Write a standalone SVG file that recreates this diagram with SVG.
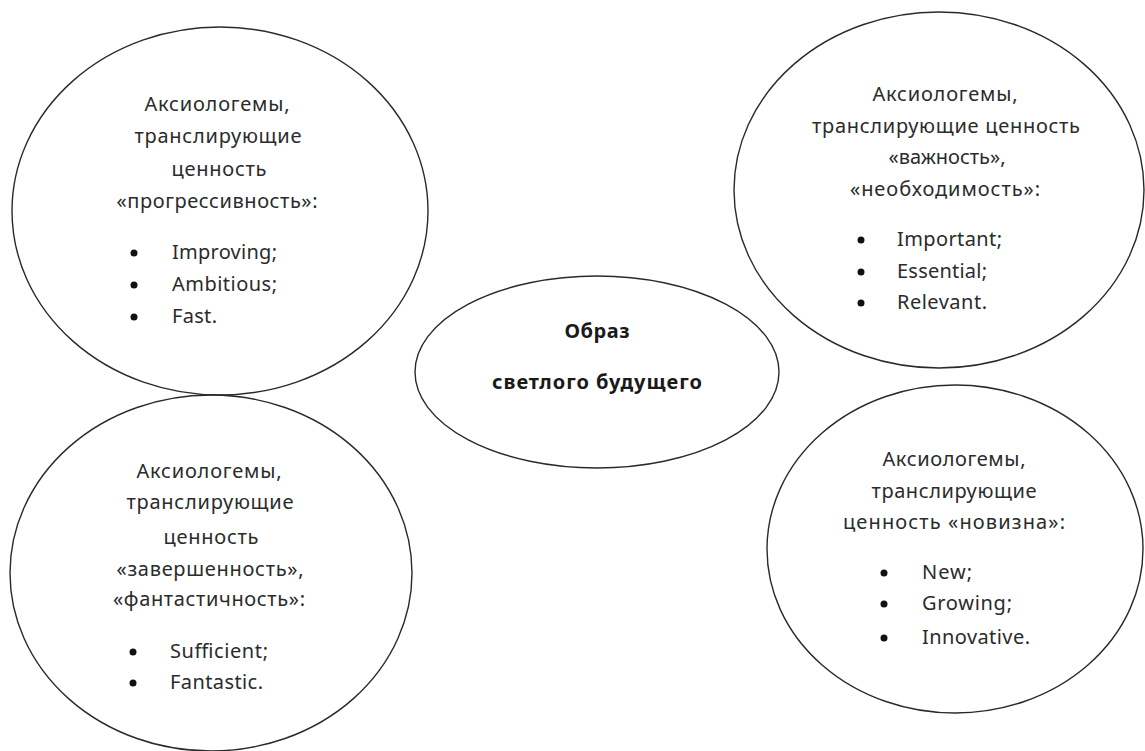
<svg xmlns="http://www.w3.org/2000/svg" width="1145" height="751" viewBox="0 0 1145 751">
<style>
.node ellipse{fill:none;stroke:#2a2a2a;stroke-width:1.4}
text{font-family:"Noto Sans","Open Sans",sans-serif;font-size:20px;fill:#2b2b2b}
.c{text-anchor:middle}
.b{font-weight:bold;fill:#1a1a1a}
.dot{fill:#111}
</style>
<rect width="1145" height="751" fill="#ffffff"/>
<g id="connectors"/>
<g id="node-progress" class="node">
<ellipse cx="220" cy="211" rx="208" ry="184"/>
<text class="c" x="217" y="111" textLength="145" lengthAdjust="spacing">Аксиологемы,</text>
<text class="c" x="218" y="143" textLength="167" lengthAdjust="spacing">транслирующие</text>
<text class="c" x="219" y="176" textLength="95" lengthAdjust="spacing">ценность</text>
<text class="c" x="217" y="208" textLength="201" lengthAdjust="spacing">«прогрессивность»:</text>
<circle class="dot" cx="134" cy="253" r="3.5"/>
<text x="172" y="259" textLength="105" lengthAdjust="spacing">Improving;</text>
<circle class="dot" cx="134" cy="285" r="3.5"/>
<text x="172" y="291" textLength="105" lengthAdjust="spacing">Ambitious;</text>
<circle class="dot" cx="134" cy="317" r="3.5"/>
<text x="172" y="323" textLength="45" lengthAdjust="spacing">Fast.</text>
</g>
<g id="node-importance" class="node">
<ellipse cx="939" cy="190" rx="205" ry="178"/>
<text class="c" x="945" y="101" textLength="145" lengthAdjust="spacing">Аксиологемы,</text>
<text class="c" x="946" y="133" textLength="268" lengthAdjust="spacing">транслирующие ценность</text>
<text class="c" x="947" y="164" textLength="117" lengthAdjust="spacing">«важность»,</text>
<text class="c" x="945" y="196" textLength="190" lengthAdjust="spacing">«необходимость»:</text>
<circle class="dot" cx="861" cy="240" r="3.5"/>
<text x="897" y="246" textLength="105" lengthAdjust="spacing">Important;</text>
<circle class="dot" cx="861" cy="272" r="3.5"/>
<text x="897" y="278" textLength="90" lengthAdjust="spacing">Essential;</text>
<circle class="dot" cx="861" cy="303" r="3.5"/>
<text x="897" y="309" textLength="90" lengthAdjust="spacing">Relevant.</text>
</g>
<g id="node-center" class="node">
<ellipse cx="597" cy="372" rx="182" ry="96"/>
<text class="c b" x="597" y="338" textLength="65" lengthAdjust="spacing">Образ</text>
<text class="c b" x="597" y="389" textLength="210" lengthAdjust="spacing">светлого будущего</text>
</g>
<g id="node-completeness" class="node">
<ellipse cx="211" cy="573" rx="201" ry="178"/>
<text class="c" x="209" y="478" textLength="145" lengthAdjust="spacing">Аксиологемы,</text>
<text class="c" x="210" y="509" textLength="167" lengthAdjust="spacing">транслирующие</text>
<text class="c" x="211" y="544" textLength="95" lengthAdjust="spacing">ценность</text>
<text class="c" x="210" y="576" textLength="187" lengthAdjust="spacing">«завершенность»,</text>
<text class="c" x="209" y="606" textLength="192" lengthAdjust="spacing">«фантастичность»:</text>
<circle class="dot" cx="133" cy="652" r="3.5"/>
<text x="170" y="658" textLength="98" lengthAdjust="spacing">Sufficient;</text>
<circle class="dot" cx="133" cy="683" r="3.5"/>
<text x="170" y="689" textLength="93" lengthAdjust="spacing">Fantastic.</text>
</g>
<g id="node-novelty" class="node">
<ellipse cx="955" cy="549" rx="188" ry="164"/>
<text class="c" x="954" y="466" textLength="143" lengthAdjust="spacing">Аксиологемы,</text>
<text class="c" x="954" y="498" textLength="165" lengthAdjust="spacing">транслирующие</text>
<text class="c" x="954" y="529" textLength="222" lengthAdjust="spacing">ценность «новизна»:</text>
<circle class="dot" cx="884" cy="573" r="3.5"/>
<text x="922" y="579" textLength="50" lengthAdjust="spacing">New;</text>
<circle class="dot" cx="884" cy="604" r="3.5"/>
<text x="922" y="610" textLength="90" lengthAdjust="spacing">Growing;</text>
<circle class="dot" cx="884" cy="638" r="3.5"/>
<text x="922" y="644" textLength="108" lengthAdjust="spacing">Innovative.</text>
</g>
</svg>
